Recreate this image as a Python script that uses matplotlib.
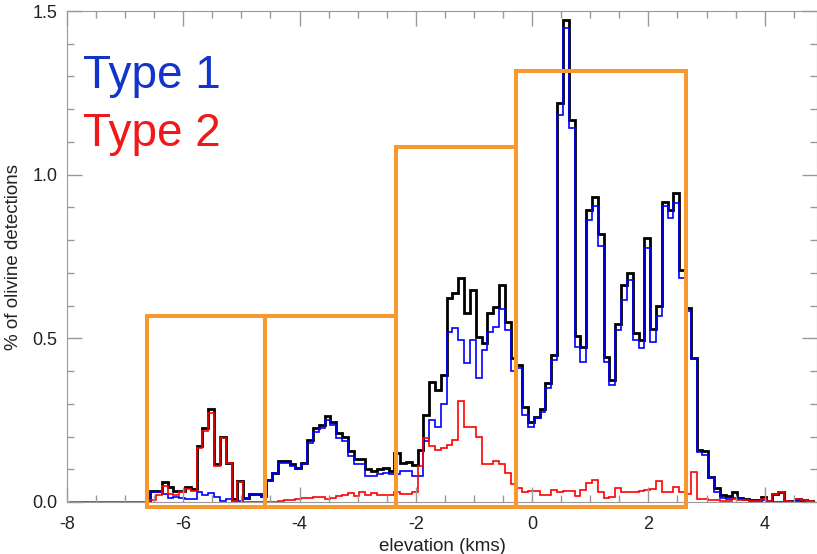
import numpy as np
import matplotlib
matplotlib.use('Agg')
import matplotlib.pyplot as plt
from matplotlib.patches import Rectangle
from matplotlib.ticker import MultipleLocator

plt.rcParams['font.family'] = ['Liberation Sans', 'DejaVu Sans']
plt.rcParams['axes.unicode_minus'] = False

# histogram bins: 0.1 km wide
bin_width = 0.1
type_start = -6.57   # first bin of total / type 1 / type 2
red_start = -7.97    # type 2 line drawn from the left edge

# % of olivine detections, total (black)
total = [0.035, 0.035, 0.060, 0.045, 0.035, 0.035, 0.045, 0.040, 0.170, 0.225,
         0.285, 0.115, 0.200, 0.120, 0.010, 0.065, 0.012, 0.023, 0.023, 0.017,
         0.067, 0.090, 0.125, 0.125, 0.115, 0.105, 0.120, 0.190, 0.225, 0.235,
         0.262, 0.245, 0.210, 0.200, 0.155, 0.130, 0.130, 0.100, 0.095, 0.100,
         0.105, 0.095,
         0.149, 0.120, 0.123, 0.113, 0.159, 0.266, 0.368, 0.343, 0.388, 0.623,
         0.638, 0.684, 0.577, 0.648, 0.505, 0.485, 0.577, 0.597, 0.663, 0.551,
         0.439,
         0.419, 0.291, 0.245, 0.260, 0.285, 0.365, 0.450, 1.220, 1.474, 1.166,
         0.506, 0.475, 0.893, 0.932, 0.820, 0.444, 0.373, 0.544, 0.664, 0.699,
         0.517, 0.495, 0.806, 0.528, 0.599, 0.915, 0.891, 0.944, 0.709, 0.592,
         0.440,
         0.159, 0.155, 0.077, 0.042, 0.020, 0.018, 0.030, 0.012, 0.008, 0.006,
         0.005, 0.015, 0.003, 0.025, 0.030, 0.003, 0.002, 0.008, 0.005, 0.003]

# Type 1 (blue)
type1 = [0.030, 0.030, 0.025, 0.012, 0.015, 0.012, 0.010, 0.010, 0.030, 0.022,
         0.028, 0.015, 0.003, 0.010, 0.002, 0.003, 0.010, 0.023, 0.023, 0.015,
         0.065, 0.088, 0.120, 0.120, 0.110, 0.100, 0.115, 0.180, 0.215, 0.225,
         0.250, 0.235, 0.195, 0.185, 0.140, 0.115, 0.115, 0.080, 0.080, 0.085,
         0.090, 0.085,
         0.085, 0.095, 0.095, 0.080, 0.080, 0.185, 0.250, 0.230, 0.300, 0.520,
         0.531, 0.496, 0.424, 0.496, 0.378, 0.465, 0.520, 0.536, 0.590, 0.526,
         0.400,
         0.410, 0.266, 0.228, 0.256, 0.276, 0.348, 0.434, 1.183, 1.448, 1.143,
         0.475, 0.429, 0.862, 0.903, 0.781, 0.429, 0.358, 0.526, 0.618, 0.679,
         0.495, 0.470, 0.776, 0.490, 0.567, 0.903, 0.868, 0.913, 0.684, 0.582,
         0.440,
         0.154, 0.143, 0.072, 0.030, 0.012, 0.008, 0.012, 0.008, 0.006, 0.004,
         0.003, 0.005, 0.002, 0.001, 0.001, 0.002, 0.001, 0.002, 0.001, 0.001]

# Type 2 (red), starts at the left edge of the axis
type2 = [0.0, 0.0, 0.0, 0.0, 0.0, 0.0, 0.0, 0.0, 0.0, 0.0, 0.0, 0.0, 0.0, 0.0,
         0.005, 0.020, 0.050, 0.025, 0.020, 0.030, 0.040, 0.035, 0.164, 0.217,
         0.271, 0.110, 0.197, 0.118, 0.002, 0.062, 0.000, 0.000, 0.000, 0.000,
         0.000, 0.000, 0.003, 0.006, 0.006, 0.010, 0.013, 0.012, 0.015, 0.015,
         0.010, 0.013, 0.018, 0.020, 0.026, 0.018, 0.030, 0.022, 0.028, 0.020,
         0.022, 0.020,
         0.030, 0.025, 0.025, 0.030, 0.110, 0.195, 0.170, 0.160, 0.165, 0.175,
         0.190, 0.310, 0.230, 0.230, 0.200, 0.115, 0.115, 0.125, 0.115, 0.090,
         0.055,
         0.042, 0.030, 0.035, 0.035, 0.022, 0.022, 0.036, 0.030, 0.033, 0.033,
         0.018, 0.036, 0.057, 0.067, 0.030, 0.011, 0.015, 0.042, 0.030, 0.030,
         0.030, 0.033, 0.036, 0.040, 0.065, 0.030, 0.030, 0.045, 0.030, 0.025,
         0.093,
         0.010, 0.008, 0.006, 0.005, 0.003, 0.003, 0.010, 0.005, 0.005, 0.002,
         0.004, 0.008, 0.002, 0.025, 0.030, 0.003, 0.000, 0.008, 0.006, 0.002]

# orange boxes (elevation edges and heights)
box_edges = [-6.62, -4.59, -2.34, -0.27, 2.64]
box_tops = [0.569, 0.569, 1.083, 1.318]
box_bottom = -0.015


def edges_for(start, n):
    return np.round(start + bin_width * np.arange(n + 1), 3)


fig = plt.figure(figsize=(8.17, 5.54), dpi=100)
ax = fig.add_axes([67 / 817, 52 / 554, 750 / 817, 491 / 554])

ax.stairs(total, edges_for(type_start, len(total)), color='black', lw=2.0)
ax.stairs(type1, edges_for(type_start, len(type1)), color='#0000ff', lw=1.2)
ax.stairs(type2, edges_for(red_start, len(type2)), color='#ff0000', lw=1.2)

for i, top in enumerate(box_tops):
    ax.add_patch(Rectangle((box_edges[i], box_bottom), box_edges[i + 1] - box_edges[i],
                           top - box_bottom, fill=False, ec='#f7992f', lw=2.9,
                           clip_on=False, zorder=5))

ax.text(0.021, 0.843, 'Type 1', transform=ax.transAxes, color='#1234c8',
        fontsize=33, va='baseline')
ax.text(0.021, 0.725, 'Type 2', transform=ax.transAxes, color='#f01818',
        fontsize=33, va='baseline')

ax.set_xlim(-8, 4.9)
ax.set_ylim(0, 1.5)
ax.xaxis.set_major_locator(MultipleLocator(2))
ax.xaxis.set_minor_locator(MultipleLocator(0.5))
ax.yaxis.set_major_locator(MultipleLocator(0.5))
ax.yaxis.set_minor_locator(MultipleLocator(0.1))
ax.yaxis.set_major_formatter(plt.FormatStrFormatter('%.1f'))
ax.tick_params(which='both', direction='in', top=True, right=True,
               color='#999999', labelsize=13, labelcolor='#222222', pad=7)
ax.tick_params(axis='x', which='both', pad=10)
ax.tick_params(which='major', length=11, width=1)
ax.tick_params(which='minor', length=5, width=1)
for s in ax.spines.values():
    s.set_color('#999999')

ax.set_xlabel('elevation (kms)', fontsize=13.5, color='#222222', labelpad=4)
ax.set_ylabel('% of olivine detections', fontsize=13.5, color='#222222', labelpad=7)

plt.savefig('out.png', dpi=100)
